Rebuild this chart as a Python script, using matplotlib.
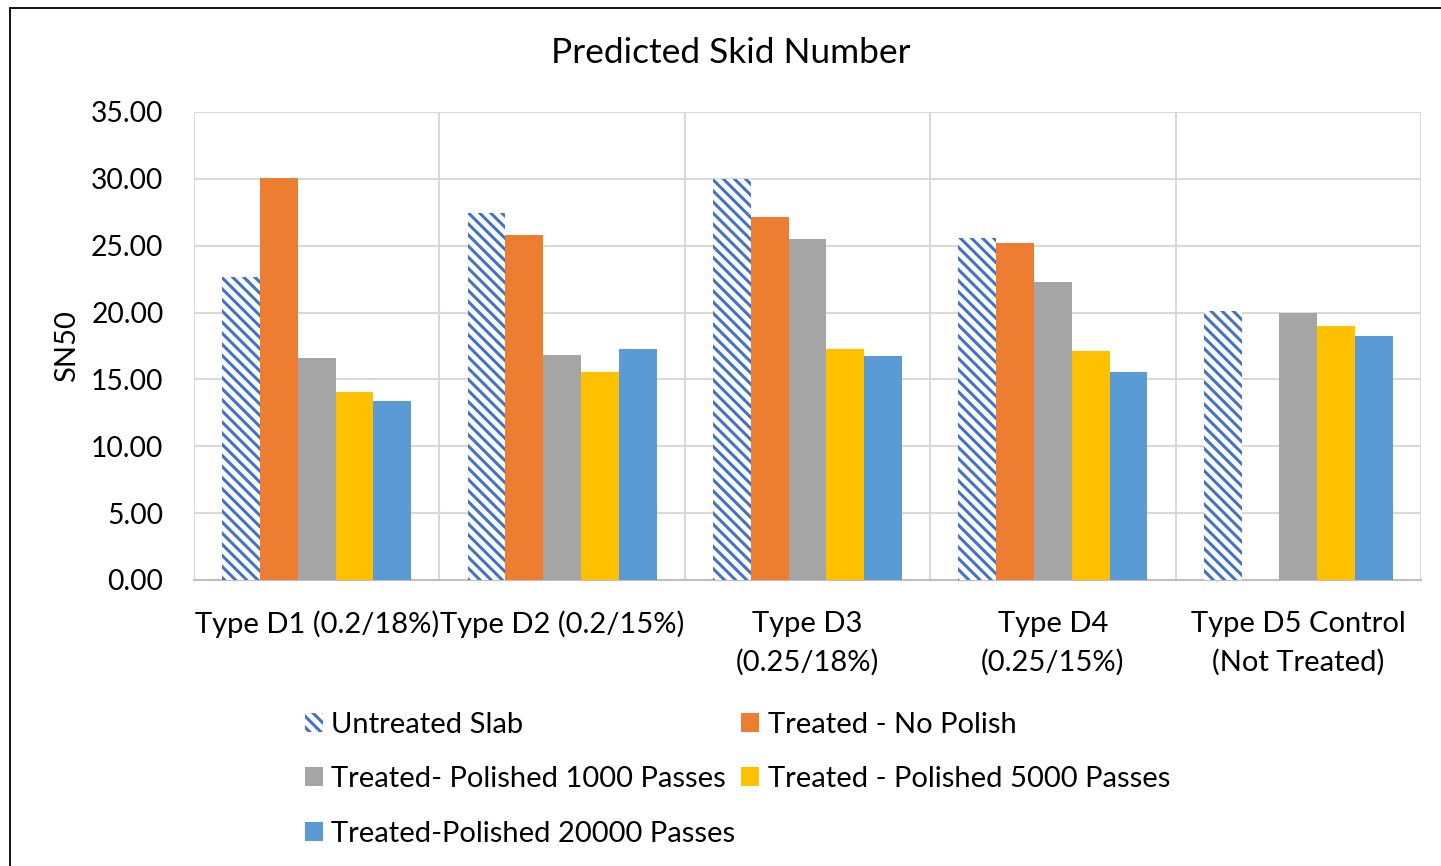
import numpy as np
import matplotlib
matplotlib.use("Agg")
import matplotlib.pyplot as plt
from matplotlib.patches import Rectangle, Patch

categories = ["Type D1 (0.2/18%)", "Type D2 (0.2/15%)", "Type D3\n(0.25/18%)",
              "Type D4\n(0.25/15%)", "Type D5 Control\n(Not Treated)"]
series_names = ["Untreated Slab", "Treated - No Polish", "Treated- Polished 1000 Passes",
                "Treated - Polished 5000 Passes", "Treated-Polished 20000 Passes"]
untreated = [22.68, 27.47, 30.02, 25.55, 20.12]
no_polish = [30.07, 25.78, 27.13, 25.18, np.nan]
pol_1000 = [16.58, 16.83, 25.48, 22.26, 19.99]
pol_5000 = [14.08, 15.53, 17.28, 17.10, 19.00]
pol_20000 = [13.39, 17.28, 16.73, 15.56, 18.25]
yticks = [0, 5, 10, 15, 20, 25, 30, 35]

plt.rcParams['font.family'] = ['Lato', 'DejaVu Sans']
plt.rcParams['hatch.linewidth'] = 2.2

W, H = 1441, 866
fig = plt.figure(figsize=(W/100, H/100), dpi=100)
ax = fig.add_axes([194/W, 1-580/H, (1421-194)/W, (580-112)/H])

colors = ['white', '#ED7D31', '#A5A5A5', '#FFC000', '#5B9BD5']
data = [untreated, no_polish, pol_1000, pol_5000, pol_20000]
x = np.arange(len(categories))
bw = 0.154
handles = []
for i, (vals, c, name) in enumerate(zip(data, colors, series_names)):
    pos = x + (i - 2) * bw
    if i == 0:
        b = ax.bar(pos, vals, bw, color='white', edgecolor='#4472C4', linewidth=0,
                   hatch='\\\\\\', label=name, zorder=3)
    else:
        b = ax.bar(pos, vals, bw, color=c, linewidth=0, label=name, zorder=3)
    handles.append(b)

ax.set_xlim(-0.5, len(categories) - 0.5)
ax.set_ylim(0, 35)
ax.set_yticks(yticks)
ax.set_yticklabels([f"{v:.2f}" for v in yticks])
ax.set_xticks(x)
ax.set_xticklabels(categories, linespacing=1.55)
ax.set_xticks(np.arange(len(categories) + 1) - 0.5, minor=True)
ax.grid(axis='y', which='major', color='#D9D9D9', linewidth=1.5, zorder=0)
ax.grid(axis='x', which='minor', color='#D9D9D9', linewidth=1.5, zorder=0)
ax.tick_params(axis='both', which='both', length=0, colors='black')
ax.tick_params(axis='x', labelsize=21, pad=22)
ax.tick_params(axis='y', labelsize=20.3, pad=22)
for s in ['top', 'right', 'left']:
    ax.spines[s].set_visible(False)
ax.spines['bottom'].set_color('#BFBFBF')
ax.spines['bottom'].set_linewidth(1.5)
ax.set_ylabel("SN50", fontsize=21)
ax.yaxis.set_label_coords(-114 / (1421-194), 0.5)

fig.text(731/W, 1-53/H, "Predicted Skid Number", ha='center', va='center', fontsize=25.4)

order = [0, 2, 4, 1, 3]
fig.legend([handles[k] for k in order], [series_names[k] for k in order],
           ncol=2, loc='upper left', bbox_to_anchor=(290/W, 1-697/H),
           frameon=False, fontsize=21, handlelength=0.62, handleheight=0.62,
           handletextpad=0.3, columnspacing=0.2, labelspacing=0.98, borderpad=0)

fig.add_artist(Rectangle((10/W, -0.1), 1.2, 1.1 - 8/H, transform=fig.transFigure,
                         fill=False, edgecolor='black', linewidth=1.3, clip_on=False))

fig.savefig("out.png", dpi=100)
